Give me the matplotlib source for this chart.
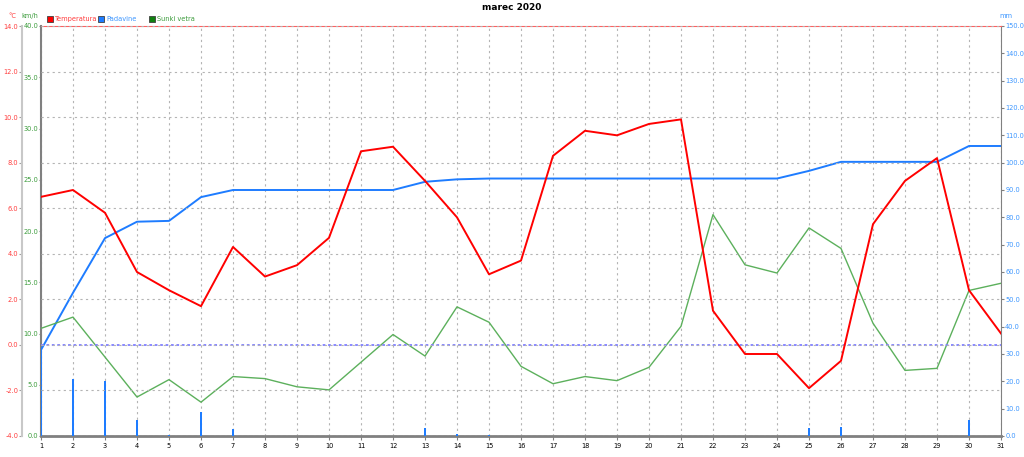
import numpy as np
import matplotlib
matplotlib.use("Agg")
import matplotlib.pyplot as plt
from matplotlib.patches import Rectangle

# days of March 2020
days = list(range(1, 32))

# temperature (degC)
temperature = [6.5, 6.8, 5.8, 3.2, 2.4, 1.7, 4.3, 3.0, 3.5, 4.7,
               8.5, 8.7, 7.2, 5.6, 3.1, 3.7, 8.3, 9.4, 9.2, 9.7,
               9.9, 1.5, -0.4, -0.4, -1.9, -0.7, 5.3, 7.2, 8.2, 2.4, 0.5]

# daily precipitation (mm)
precip_daily = [31.5, 20.9, 20.0, 6.0, 0.3, 8.7, 2.6, 0, 0, 0,
                0, 0, 3.0, 0.9, 0.3, 0, 0, 0, 0, 0,
                0, 0, 0, 0, 2.8, 3.3, 0, 0, 0, 5.8, 0]

# cumulative precipitation (mm)
precip_total = [31.5, 52.4, 72.4, 78.4, 78.7, 87.4, 90.0, 90.0, 90.0, 90.0,
                90.0, 90.0, 93.0, 93.9, 94.2, 94.2, 94.2, 94.2, 94.2, 94.2,
                94.2, 94.2, 94.2, 94.2, 97.0, 100.3, 100.3, 100.3, 100.3, 106.1, 106.1]

# wind gusts (km/h)
gusts = [10.5, 11.6, 7.7, 3.8, 5.5, 3.3, 5.8, 5.6, 4.8, 4.5,
         7.2, 9.9, 7.8, 12.6, 11.1, 6.8, 5.1, 5.8, 5.4, 6.7,
         10.7, 21.6, 16.7, 15.9, 20.3, 18.3, 11.0, 6.4, 6.6, 14.2, 14.9]

temp_ticks = np.arange(-4, 14.1, 2)
wind_ticks = np.arange(0, 40.1, 5)
precip_ticks = np.arange(0, 150.1, 10)

RED = "#ff0000"
RED_TXT = "#ff3c3c"
BLUE = "#1e7cff"
BLUE_TXT = "#3c96ff"
GREEN = "#5cb05c"
GREEN_TXT = "#3c9c3c"
GRID = dict(color="#b4b4b4", ls=(0, (2, 3)), lw=0.8)
FS = 4.8

fig = plt.figure(figsize=(10.24, 4.57), dpi=100)
rect = [41 / 1024, 21 / 457, 960 / 1024, 410 / 457]

# precipitation axes (right side), also carries the vertical grid
ax_p = fig.add_axes(rect)
ax_p.set_axisbelow(True)
ax_p.grid(True, axis="x", **GRID)
ax_p.bar(days, precip_daily, width=0.09, color=BLUE, zorder=3)
ax_p.plot(days, precip_total, color=BLUE, lw=1.4, zorder=4)
ax_p.set_ylim(0, 150)
ax_p.set_yticks(precip_ticks)
ax_p.set_yticklabels(["%.1f" % v for v in precip_ticks])
ax_p.yaxis.tick_right()
ax_p.tick_params(axis="y", colors="#808080", labelcolor=BLUE_TXT, labelsize=FS,
                 length=2.5, pad=0.5)
ax_p.set_xlim(1, 31)
ax_p.set_xticks(days)
ax_p.tick_params(axis="x", labelsize=FS, length=3, pad=2, colors="#808080",
                 labelcolor="black")
for s in ["left", "bottom", "right"]:
    ax_p.spines[s].set_color("#808080")
ax_p.spines["bottom"].set_linewidth(2)
ax_p.spines["left"].set_linewidth(1.5)
ax_p.spines["top"].set_color("#ff6060")

# wind axes (inner left)
ax_w = fig.add_axes(rect, frameon=False, sharex=ax_p)
ax_w.plot(days, gusts, color=GREEN, lw=1.0, zorder=3)
ax_w.set_ylim(0, 40)
ax_w.set_yticks(wind_ticks)
ax_w.set_yticklabels(["%.1f" % v for v in wind_ticks])
ax_w.tick_params(axis="y", colors="#808080", labelcolor=GREEN_TXT, labelsize=FS,
                 length=1.5, pad=0.5)
ax_w.tick_params(axis="x", bottom=False, labelbottom=False)

# temperature axes (outer left), horizontal grid
ax_t = fig.add_axes(rect, sharex=ax_p)
ax_t.patch.set_visible(False)
for s in ["top", "right", "bottom"]:
    ax_t.spines[s].set_visible(False)
ax_t.spines["left"].set_position(("outward", 13.7))
ax_t.spines["left"].set_color("#c8c8c8")
ax_t.spines["left"].set_linewidth(1.5)
ax_t.grid(True, axis="y", zorder=0, **GRID)
ax_t.axhline(0, color="#8080ff", ls=(0, (1.5, 1.5)), lw=1.3, zorder=1)
ax_t.plot(days, temperature, color=RED, lw=1.4, zorder=5)
ax_t.set_ylim(-4, 14)
ax_t.set_yticks(temp_ticks)
ax_t.set_yticklabels(["%.1f" % v for v in temp_ticks])
ax_t.tick_params(axis="y", colors="#a0a0a0", labelcolor=RED_TXT, labelsize=FS,
                 length=2, pad=0.5)
ax_t.tick_params(axis="x", bottom=False, labelbottom=False)
ax_t.set_xlim(1, 31)

# title and unit labels
fig.text(0.5, 1 - 8 / 457, "marec 2020", ha="center", va="center",
         fontsize=6.5, fontweight="bold")
fig.text(12 / 1024, 1 - 16 / 457, "°C", color=RED_TXT, fontsize=FS, ha="center", va="center")
fig.text(30 / 1024, 1 - 16 / 457, "km/h", color=GREEN_TXT, fontsize=FS, ha="center", va="center")
fig.text(1006 / 1024, 1 - 16 / 457, "mm", color=BLUE_TXT, fontsize=FS, ha="center", va="center")

# legend
legend = [("Temperatura", RED, RED_TXT, 47), ("Padavine", BLUE, BLUE_TXT, 98),
          ("Sunki vetra", "#108010", GREEN_TXT, 149)]
for label, col, txtcol, x in legend:
    fig.patches.append(Rectangle((x / 1024, 1 - 22 / 457), 6 / 1024, 6 / 457,
                                 transform=fig.transFigure, facecolor=col,
                                 edgecolor="#404040", lw=0.6))
    fig.text((x + 8) / 1024, 1 - 19 / 457, label, color=txtcol, fontsize=FS,
             ha="left", va="center")

fig.savefig("out.png", dpi=100)
